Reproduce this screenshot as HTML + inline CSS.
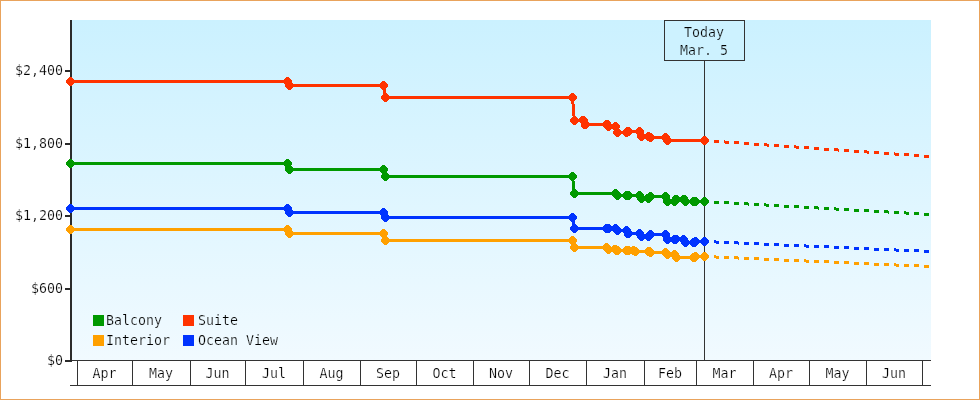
<!DOCTYPE html>
<html lang="en"><head><meta charset="utf-8"><title>Price history</title>
<style>
html,body{margin:0;padding:0;background:#fff;}
body{width:980px;height:400px;overflow:hidden;}
#chart{display:block;width:980px;height:400px;}
#chart{will-change:transform;}
#chart text{font-family:"DejaVu Sans Mono", "Liberation Mono", monospace;font-size:13.30px;fill:#000;}
</style></head><body>
<svg id="chart" width="980" height="400" viewBox="0 0 980 400">
<defs><linearGradient id="bg" x1="0" y1="0" x2="0" y2="1"><stop offset="0" stop-color="#CBF1FF"/><stop offset="1" stop-color="#F1FAFF"/></linearGradient></defs>
<rect x="0" y="0" width="980" height="400" fill="#fff"/>
<rect x="0.5" y="0.5" width="979" height="399" fill="none" stroke="#E9A35C" stroke-width="1"/>
<rect x="72" y="20" width="859" height="340" fill="url(#bg)"/>
<g shape-rendering="crispEdges" stroke="#333" stroke-width="1" fill="none">
<line x1="72" y1="360.5" x2="931" y2="360.5"/>
<line x1="70" y1="385.5" x2="931" y2="385.5"/>
<line x1="77.5" y1="361" x2="77.5" y2="385"/>
<line x1="132.5" y1="361" x2="132.5" y2="385"/>
<line x1="190.5" y1="361" x2="190.5" y2="385"/>
<line x1="245.5" y1="361" x2="245.5" y2="385"/>
<line x1="303.5" y1="361" x2="303.5" y2="385"/>
<line x1="360.5" y1="361" x2="360.5" y2="385"/>
<line x1="416.5" y1="361" x2="416.5" y2="385"/>
<line x1="473.5" y1="361" x2="473.5" y2="385"/>
<line x1="529.5" y1="361" x2="529.5" y2="385"/>
<line x1="586.5" y1="361" x2="586.5" y2="385"/>
<line x1="644.5" y1="361" x2="644.5" y2="385"/>
<line x1="696.5" y1="361" x2="696.5" y2="385"/>
<line x1="753.5" y1="361" x2="753.5" y2="385"/>
<line x1="809.5" y1="361" x2="809.5" y2="385"/>
<line x1="866.5" y1="361" x2="866.5" y2="385"/>
<line x1="922.5" y1="361" x2="922.5" y2="385"/>
</g>
<g shape-rendering="crispEdges" stroke="#333" stroke-width="1">
<line x1="704.5" y1="60" x2="704.5" y2="360"/>
<rect x="664.5" y="20.5" width="80" height="40" fill="#CDF2FF"/>
</g>
<g shape-rendering="crispEdges" fill="#2b2b2b">
<rect x="70" y="20" width="2" height="342"/>
<rect x="65" y="70.0" width="6" height="2"/>
<rect x="65" y="143.0" width="6" height="2"/>
<rect x="65" y="215.0" width="6" height="2"/>
<rect x="65" y="288.0" width="6" height="2"/>
<rect x="65" y="360.0" width="6" height="2"/>
</g>
<g fill="#FFA000" stroke="none" shape-rendering="crispEdges">
<polyline fill="none" stroke="#FFA000" stroke-width="3" stroke-linejoin="round" points="70.50,229.50 287.50,229.50 289.30,233.50 383.75,233.50 385.25,240.50 572.50,240.50 574.30,247.50 606.75,247.50 608.30,249.50 615.20,249.50 616.90,250.50 626.30,250.50 628.30,250.50 633.40,250.50 635.20,251.50 648.80,251.50 650.30,252.50 665.60,252.50 667.30,254.50 674.40,254.50 676.20,257.50 693.90,257.50 695.40,256.50 704.50,256.50"/>
<rect x="714" y="255" width="2" height="3"/>
<rect x="716" y="256" width="3" height="3"/>
<rect x="724" y="256" width="5" height="3"/>
<rect x="734" y="256" width="4" height="3"/>
<rect x="738" y="257" width="1" height="3"/>
<rect x="744" y="257" width="5" height="3"/>
<rect x="754" y="257" width="5" height="3"/>
<rect x="764" y="258" width="5" height="3"/>
<rect x="774" y="258" width="5" height="3"/>
<rect x="784" y="259" width="5" height="3"/>
<rect x="794" y="259" width="5" height="3"/>
<rect x="804" y="259" width="2" height="3"/>
<rect x="806" y="260" width="3" height="3"/>
<rect x="814" y="260" width="5" height="3"/>
<rect x="824" y="260" width="5" height="3"/>
<rect x="834" y="261" width="5" height="3"/>
<rect x="844" y="261" width="5" height="3"/>
<rect x="854" y="262" width="5" height="3"/>
<rect x="864" y="262" width="5" height="3"/>
<rect x="874" y="263" width="5" height="3"/>
<rect x="884" y="263" width="5" height="3"/>
<rect x="894" y="263" width="2" height="3"/>
<rect x="896" y="264" width="3" height="3"/>
<rect x="904" y="264" width="5" height="3"/>
<rect x="914" y="264" width="5" height="3"/>
<rect x="924" y="265" width="5" height="3"/>
<polygon points="69.30,225.00 71.70,225.00 75.00,228.30 75.00,230.70 71.70,234.00 69.30,234.00 66.00,230.70 66.00,228.30"/>
<polygon points="286.30,225.00 288.70,225.00 292.00,228.30 292.00,230.70 288.70,234.00 286.30,234.00 283.00,230.70 283.00,228.30"/>
<polygon points="288.10,229.00 290.50,229.00 293.80,232.30 293.80,234.70 290.50,238.00 288.10,238.00 284.80,234.70 284.80,232.30"/>
<polygon points="382.55,229.00 384.95,229.00 388.25,232.30 388.25,234.70 384.95,238.00 382.55,238.00 379.25,234.70 379.25,232.30"/>
<polygon points="384.05,236.00 386.45,236.00 389.75,239.30 389.75,241.70 386.45,245.00 384.05,245.00 380.75,241.70 380.75,239.30"/>
<polygon points="571.30,236.00 573.70,236.00 577.00,239.30 577.00,241.70 573.70,245.00 571.30,245.00 568.00,241.70 568.00,239.30"/>
<polygon points="573.10,243.00 575.50,243.00 578.80,246.30 578.80,248.70 575.50,252.00 573.10,252.00 569.80,248.70 569.80,246.30"/>
<polygon points="605.55,243.00 607.95,243.00 611.25,246.30 611.25,248.70 607.95,252.00 605.55,252.00 602.25,248.70 602.25,246.30"/>
<polygon points="607.10,245.00 609.50,245.00 612.80,248.30 612.80,250.70 609.50,254.00 607.10,254.00 603.80,250.70 603.80,248.30"/>
<polygon points="614.00,245.00 616.40,245.00 619.70,248.30 619.70,250.70 616.40,254.00 614.00,254.00 610.70,250.70 610.70,248.30"/>
<polygon points="615.70,246.00 618.10,246.00 621.40,249.30 621.40,251.70 618.10,255.00 615.70,255.00 612.40,251.70 612.40,249.30"/>
<polygon points="625.10,246.00 627.50,246.00 630.80,249.30 630.80,251.70 627.50,255.00 625.10,255.00 621.80,251.70 621.80,249.30"/>
<polygon points="627.10,246.00 629.50,246.00 632.80,249.30 632.80,251.70 629.50,255.00 627.10,255.00 623.80,251.70 623.80,249.30"/>
<polygon points="632.20,246.00 634.60,246.00 637.90,249.30 637.90,251.70 634.60,255.00 632.20,255.00 628.90,251.70 628.90,249.30"/>
<polygon points="634.00,247.00 636.40,247.00 639.70,250.30 639.70,252.70 636.40,256.00 634.00,256.00 630.70,252.70 630.70,250.30"/>
<polygon points="647.60,247.00 650.00,247.00 653.30,250.30 653.30,252.70 650.00,256.00 647.60,256.00 644.30,252.70 644.30,250.30"/>
<polygon points="649.10,248.00 651.50,248.00 654.80,251.30 654.80,253.70 651.50,257.00 649.10,257.00 645.80,253.70 645.80,251.30"/>
<polygon points="664.40,248.00 666.80,248.00 670.10,251.30 670.10,253.70 666.80,257.00 664.40,257.00 661.10,253.70 661.10,251.30"/>
<polygon points="666.10,250.00 668.50,250.00 671.80,253.30 671.80,255.70 668.50,259.00 666.10,259.00 662.80,255.70 662.80,253.30"/>
<polygon points="673.20,250.00 675.60,250.00 678.90,253.30 678.90,255.70 675.60,259.00 673.20,259.00 669.90,255.70 669.90,253.30"/>
<polygon points="675.00,253.00 677.40,253.00 680.70,256.30 680.70,258.70 677.40,262.00 675.00,262.00 671.70,258.70 671.70,256.30"/>
<polygon points="692.70,253.00 695.10,253.00 698.40,256.30 698.40,258.70 695.10,262.00 692.70,262.00 689.40,258.70 689.40,256.30"/>
<polygon points="694.20,252.00 696.60,252.00 699.90,255.30 699.90,257.70 696.60,261.00 694.20,261.00 690.90,257.70 690.90,255.30"/>
<polygon points="703.30,252.00 705.70,252.00 709.00,255.30 709.00,257.70 705.70,261.00 703.30,261.00 700.00,257.70 700.00,255.30"/>
</g>
<g fill="#0033FF" stroke="none" shape-rendering="crispEdges">
<polyline fill="none" stroke="#0033FF" stroke-width="3" stroke-linejoin="round" points="70.50,208.50 287.50,208.50 289.30,212.50 383.75,212.50 385.25,217.50 572.50,217.50 574.30,228.50 606.50,228.50 608.00,228.50 615.40,228.50 617.30,230.50 626.30,230.50 628.10,233.50 639.40,233.50 641.20,236.50 648.30,236.50 650.30,234.50 665.60,234.50 667.40,239.50 674.40,239.50 675.80,239.50 683.30,239.50 685.60,242.50 693.90,242.50 695.40,241.50 704.50,241.50"/>
<rect x="714" y="240" width="2" height="3"/>
<rect x="716" y="241" width="3" height="3"/>
<rect x="724" y="241" width="5" height="3"/>
<rect x="734" y="241" width="4" height="3"/>
<rect x="738" y="242" width="1" height="3"/>
<rect x="744" y="242" width="5" height="3"/>
<rect x="754" y="242" width="5" height="3"/>
<rect x="764" y="243" width="5" height="3"/>
<rect x="774" y="243" width="5" height="3"/>
<rect x="784" y="244" width="5" height="3"/>
<rect x="794" y="244" width="5" height="3"/>
<rect x="804" y="244" width="2" height="3"/>
<rect x="806" y="245" width="3" height="3"/>
<rect x="814" y="245" width="5" height="3"/>
<rect x="824" y="245" width="5" height="3"/>
<rect x="834" y="246" width="5" height="3"/>
<rect x="844" y="246" width="5" height="3"/>
<rect x="854" y="247" width="5" height="3"/>
<rect x="864" y="247" width="5" height="3"/>
<rect x="874" y="248" width="5" height="3"/>
<rect x="884" y="248" width="5" height="3"/>
<rect x="894" y="248" width="2" height="3"/>
<rect x="896" y="249" width="3" height="3"/>
<rect x="904" y="249" width="5" height="3"/>
<rect x="914" y="249" width="5" height="3"/>
<rect x="924" y="250" width="5" height="3"/>
<polygon points="69.30,204.00 71.70,204.00 75.00,207.30 75.00,209.70 71.70,213.00 69.30,213.00 66.00,209.70 66.00,207.30"/>
<polygon points="286.30,204.00 288.70,204.00 292.00,207.30 292.00,209.70 288.70,213.00 286.30,213.00 283.00,209.70 283.00,207.30"/>
<polygon points="288.10,208.00 290.50,208.00 293.80,211.30 293.80,213.70 290.50,217.00 288.10,217.00 284.80,213.70 284.80,211.30"/>
<polygon points="382.55,208.00 384.95,208.00 388.25,211.30 388.25,213.70 384.95,217.00 382.55,217.00 379.25,213.70 379.25,211.30"/>
<polygon points="384.05,213.00 386.45,213.00 389.75,216.30 389.75,218.70 386.45,222.00 384.05,222.00 380.75,218.70 380.75,216.30"/>
<polygon points="571.30,213.00 573.70,213.00 577.00,216.30 577.00,218.70 573.70,222.00 571.30,222.00 568.00,218.70 568.00,216.30"/>
<polygon points="573.10,224.00 575.50,224.00 578.80,227.30 578.80,229.70 575.50,233.00 573.10,233.00 569.80,229.70 569.80,227.30"/>
<polygon points="605.30,224.00 607.70,224.00 611.00,227.30 611.00,229.70 607.70,233.00 605.30,233.00 602.00,229.70 602.00,227.30"/>
<polygon points="606.80,224.00 609.20,224.00 612.50,227.30 612.50,229.70 609.20,233.00 606.80,233.00 603.50,229.70 603.50,227.30"/>
<polygon points="614.20,224.00 616.60,224.00 619.90,227.30 619.90,229.70 616.60,233.00 614.20,233.00 610.90,229.70 610.90,227.30"/>
<polygon points="616.10,226.00 618.50,226.00 621.80,229.30 621.80,231.70 618.50,235.00 616.10,235.00 612.80,231.70 612.80,229.30"/>
<polygon points="625.10,226.00 627.50,226.00 630.80,229.30 630.80,231.70 627.50,235.00 625.10,235.00 621.80,231.70 621.80,229.30"/>
<polygon points="626.90,229.00 629.30,229.00 632.60,232.30 632.60,234.70 629.30,238.00 626.90,238.00 623.60,234.70 623.60,232.30"/>
<polygon points="638.20,229.00 640.60,229.00 643.90,232.30 643.90,234.70 640.60,238.00 638.20,238.00 634.90,234.70 634.90,232.30"/>
<polygon points="640.00,232.00 642.40,232.00 645.70,235.30 645.70,237.70 642.40,241.00 640.00,241.00 636.70,237.70 636.70,235.30"/>
<polygon points="647.10,232.00 649.50,232.00 652.80,235.30 652.80,237.70 649.50,241.00 647.10,241.00 643.80,237.70 643.80,235.30"/>
<polygon points="649.10,230.00 651.50,230.00 654.80,233.30 654.80,235.70 651.50,239.00 649.10,239.00 645.80,235.70 645.80,233.30"/>
<polygon points="664.40,230.00 666.80,230.00 670.10,233.30 670.10,235.70 666.80,239.00 664.40,239.00 661.10,235.70 661.10,233.30"/>
<polygon points="666.20,235.00 668.60,235.00 671.90,238.30 671.90,240.70 668.60,244.00 666.20,244.00 662.90,240.70 662.90,238.30"/>
<polygon points="673.20,235.00 675.60,235.00 678.90,238.30 678.90,240.70 675.60,244.00 673.20,244.00 669.90,240.70 669.90,238.30"/>
<polygon points="674.60,235.00 677.00,235.00 680.30,238.30 680.30,240.70 677.00,244.00 674.60,244.00 671.30,240.70 671.30,238.30"/>
<polygon points="682.10,235.00 684.50,235.00 687.80,238.30 687.80,240.70 684.50,244.00 682.10,244.00 678.80,240.70 678.80,238.30"/>
<polygon points="684.40,238.00 686.80,238.00 690.10,241.30 690.10,243.70 686.80,247.00 684.40,247.00 681.10,243.70 681.10,241.30"/>
<polygon points="692.70,238.00 695.10,238.00 698.40,241.30 698.40,243.70 695.10,247.00 692.70,247.00 689.40,243.70 689.40,241.30"/>
<polygon points="694.20,237.00 696.60,237.00 699.90,240.30 699.90,242.70 696.60,246.00 694.20,246.00 690.90,242.70 690.90,240.30"/>
<polygon points="703.30,237.00 705.70,237.00 709.00,240.30 709.00,242.70 705.70,246.00 703.30,246.00 700.00,242.70 700.00,240.30"/>
</g>
<g fill="#009900" stroke="none" shape-rendering="crispEdges">
<polyline fill="none" stroke="#009900" stroke-width="3" stroke-linejoin="round" points="70.50,163.50 287.50,163.50 289.20,169.50 383.75,169.50 385.25,176.50 572.50,176.50 574.30,193.50 615.50,193.50 617.40,195.50 626.30,195.50 628.10,195.50 639.40,195.50 641.20,198.50 648.20,198.50 650.60,196.50 665.50,196.50 667.30,201.50 674.30,201.50 676.00,199.50 683.80,199.50 685.50,201.50 693.90,201.50 695.40,201.50 704.50,201.50"/>
<rect x="714" y="201" width="5" height="3"/>
<rect x="724" y="201" width="5" height="3"/>
<rect x="734" y="202" width="5" height="3"/>
<rect x="744" y="202" width="4" height="3"/>
<rect x="748" y="203" width="1" height="3"/>
<rect x="754" y="203" width="5" height="3"/>
<rect x="764" y="203" width="2" height="3"/>
<rect x="766" y="204" width="3" height="3"/>
<rect x="774" y="204" width="5" height="3"/>
<rect x="784" y="205" width="5" height="3"/>
<rect x="794" y="205" width="5" height="3"/>
<rect x="804" y="206" width="5" height="3"/>
<rect x="814" y="206" width="4" height="3"/>
<rect x="818" y="207" width="1" height="3"/>
<rect x="824" y="207" width="5" height="3"/>
<rect x="834" y="207" width="2" height="3"/>
<rect x="836" y="208" width="3" height="3"/>
<rect x="844" y="208" width="5" height="3"/>
<rect x="854" y="209" width="5" height="3"/>
<rect x="864" y="209" width="5" height="3"/>
<rect x="874" y="210" width="5" height="3"/>
<rect x="884" y="210" width="4" height="3"/>
<rect x="888" y="211" width="1" height="3"/>
<rect x="894" y="211" width="5" height="3"/>
<rect x="904" y="211" width="2" height="3"/>
<rect x="906" y="212" width="3" height="3"/>
<rect x="914" y="212" width="5" height="3"/>
<rect x="924" y="213" width="5" height="3"/>
<polygon points="69.30,159.00 71.70,159.00 75.00,162.30 75.00,164.70 71.70,168.00 69.30,168.00 66.00,164.70 66.00,162.30"/>
<polygon points="286.30,159.00 288.70,159.00 292.00,162.30 292.00,164.70 288.70,168.00 286.30,168.00 283.00,164.70 283.00,162.30"/>
<polygon points="288.00,165.00 290.40,165.00 293.70,168.30 293.70,170.70 290.40,174.00 288.00,174.00 284.70,170.70 284.70,168.30"/>
<polygon points="382.55,165.00 384.95,165.00 388.25,168.30 388.25,170.70 384.95,174.00 382.55,174.00 379.25,170.70 379.25,168.30"/>
<polygon points="384.05,172.00 386.45,172.00 389.75,175.30 389.75,177.70 386.45,181.00 384.05,181.00 380.75,177.70 380.75,175.30"/>
<polygon points="571.30,172.00 573.70,172.00 577.00,175.30 577.00,177.70 573.70,181.00 571.30,181.00 568.00,177.70 568.00,175.30"/>
<polygon points="573.10,189.00 575.50,189.00 578.80,192.30 578.80,194.70 575.50,198.00 573.10,198.00 569.80,194.70 569.80,192.30"/>
<polygon points="614.30,189.00 616.70,189.00 620.00,192.30 620.00,194.70 616.70,198.00 614.30,198.00 611.00,194.70 611.00,192.30"/>
<polygon points="616.20,191.00 618.60,191.00 621.90,194.30 621.90,196.70 618.60,200.00 616.20,200.00 612.90,196.70 612.90,194.30"/>
<polygon points="625.10,191.00 627.50,191.00 630.80,194.30 630.80,196.70 627.50,200.00 625.10,200.00 621.80,196.70 621.80,194.30"/>
<polygon points="626.90,191.00 629.30,191.00 632.60,194.30 632.60,196.70 629.30,200.00 626.90,200.00 623.60,196.70 623.60,194.30"/>
<polygon points="638.20,191.00 640.60,191.00 643.90,194.30 643.90,196.70 640.60,200.00 638.20,200.00 634.90,196.70 634.90,194.30"/>
<polygon points="640.00,194.00 642.40,194.00 645.70,197.30 645.70,199.70 642.40,203.00 640.00,203.00 636.70,199.70 636.70,197.30"/>
<polygon points="647.00,194.00 649.40,194.00 652.70,197.30 652.70,199.70 649.40,203.00 647.00,203.00 643.70,199.70 643.70,197.30"/>
<polygon points="649.40,192.00 651.80,192.00 655.10,195.30 655.10,197.70 651.80,201.00 649.40,201.00 646.10,197.70 646.10,195.30"/>
<polygon points="664.30,192.00 666.70,192.00 670.00,195.30 670.00,197.70 666.70,201.00 664.30,201.00 661.00,197.70 661.00,195.30"/>
<polygon points="666.10,197.00 668.50,197.00 671.80,200.30 671.80,202.70 668.50,206.00 666.10,206.00 662.80,202.70 662.80,200.30"/>
<polygon points="673.10,197.00 675.50,197.00 678.80,200.30 678.80,202.70 675.50,206.00 673.10,206.00 669.80,202.70 669.80,200.30"/>
<polygon points="674.80,195.00 677.20,195.00 680.50,198.30 680.50,200.70 677.20,204.00 674.80,204.00 671.50,200.70 671.50,198.30"/>
<polygon points="682.60,195.00 685.00,195.00 688.30,198.30 688.30,200.70 685.00,204.00 682.60,204.00 679.30,200.70 679.30,198.30"/>
<polygon points="684.30,197.00 686.70,197.00 690.00,200.30 690.00,202.70 686.70,206.00 684.30,206.00 681.00,202.70 681.00,200.30"/>
<polygon points="692.70,197.00 695.10,197.00 698.40,200.30 698.40,202.70 695.10,206.00 692.70,206.00 689.40,202.70 689.40,200.30"/>
<polygon points="694.20,197.00 696.60,197.00 699.90,200.30 699.90,202.70 696.60,206.00 694.20,206.00 690.90,202.70 690.90,200.30"/>
<polygon points="703.30,197.00 705.70,197.00 709.00,200.30 709.00,202.70 705.70,206.00 703.30,206.00 700.00,202.70 700.00,200.30"/>
</g>
<g fill="#FF3300" stroke="none" shape-rendering="crispEdges">
<polyline fill="none" stroke="#FF3300" stroke-width="3" stroke-linejoin="round" points="70.50,81.50 287.50,81.50 289.20,85.50 383.75,85.50 385.25,97.50 572.50,97.50 574.40,120.50 583.20,120.50 585.00,124.50 606.80,124.50 608.30,126.50 615.50,126.50 617.30,132.50 626.30,132.50 628.10,131.50 639.40,131.50 641.20,136.50 648.70,136.50 650.60,137.50 665.50,137.50 667.30,140.50 704.50,140.50"/>
<rect x="714" y="140" width="5" height="3"/>
<rect x="724" y="140" width="1" height="3"/>
<rect x="725" y="141" width="4" height="3"/>
<rect x="734" y="141" width="5" height="3"/>
<rect x="744" y="142" width="5" height="3"/>
<rect x="754" y="143" width="5" height="3"/>
<rect x="764" y="143" width="3" height="3"/>
<rect x="767" y="144" width="2" height="3"/>
<rect x="774" y="144" width="5" height="3"/>
<rect x="784" y="145" width="5" height="3"/>
<rect x="794" y="145" width="2" height="3"/>
<rect x="796" y="146" width="3" height="3"/>
<rect x="804" y="146" width="5" height="3"/>
<rect x="814" y="147" width="5" height="3"/>
<rect x="824" y="148" width="5" height="3"/>
<rect x="834" y="148" width="4" height="3"/>
<rect x="838" y="149" width="1" height="3"/>
<rect x="844" y="149" width="5" height="3"/>
<rect x="854" y="150" width="5" height="3"/>
<rect x="864" y="150" width="3" height="3"/>
<rect x="867" y="151" width="2" height="3"/>
<rect x="874" y="151" width="5" height="3"/>
<rect x="884" y="152" width="5" height="3"/>
<rect x="894" y="152" width="1" height="3"/>
<rect x="895" y="153" width="4" height="3"/>
<rect x="904" y="153" width="5" height="3"/>
<rect x="914" y="154" width="5" height="3"/>
<rect x="924" y="155" width="5" height="3"/>
<polygon points="69.30,77.00 71.70,77.00 75.00,80.30 75.00,82.70 71.70,86.00 69.30,86.00 66.00,82.70 66.00,80.30"/>
<polygon points="286.30,77.00 288.70,77.00 292.00,80.30 292.00,82.70 288.70,86.00 286.30,86.00 283.00,82.70 283.00,80.30"/>
<polygon points="288.00,81.00 290.40,81.00 293.70,84.30 293.70,86.70 290.40,90.00 288.00,90.00 284.70,86.70 284.70,84.30"/>
<polygon points="382.55,81.00 384.95,81.00 388.25,84.30 388.25,86.70 384.95,90.00 382.55,90.00 379.25,86.70 379.25,84.30"/>
<polygon points="384.05,93.00 386.45,93.00 389.75,96.30 389.75,98.70 386.45,102.00 384.05,102.00 380.75,98.70 380.75,96.30"/>
<polygon points="571.30,93.00 573.70,93.00 577.00,96.30 577.00,98.70 573.70,102.00 571.30,102.00 568.00,98.70 568.00,96.30"/>
<polygon points="573.20,116.00 575.60,116.00 578.90,119.30 578.90,121.70 575.60,125.00 573.20,125.00 569.90,121.70 569.90,119.30"/>
<polygon points="582.00,116.00 584.40,116.00 587.70,119.30 587.70,121.70 584.40,125.00 582.00,125.00 578.70,121.70 578.70,119.30"/>
<polygon points="583.80,120.00 586.20,120.00 589.50,123.30 589.50,125.70 586.20,129.00 583.80,129.00 580.50,125.70 580.50,123.30"/>
<polygon points="605.60,120.00 608.00,120.00 611.30,123.30 611.30,125.70 608.00,129.00 605.60,129.00 602.30,125.70 602.30,123.30"/>
<polygon points="607.10,122.00 609.50,122.00 612.80,125.30 612.80,127.70 609.50,131.00 607.10,131.00 603.80,127.70 603.80,125.30"/>
<polygon points="614.30,122.00 616.70,122.00 620.00,125.30 620.00,127.70 616.70,131.00 614.30,131.00 611.00,127.70 611.00,125.30"/>
<polygon points="616.10,128.00 618.50,128.00 621.80,131.30 621.80,133.70 618.50,137.00 616.10,137.00 612.80,133.70 612.80,131.30"/>
<polygon points="625.10,128.00 627.50,128.00 630.80,131.30 630.80,133.70 627.50,137.00 625.10,137.00 621.80,133.70 621.80,131.30"/>
<polygon points="626.90,127.00 629.30,127.00 632.60,130.30 632.60,132.70 629.30,136.00 626.90,136.00 623.60,132.70 623.60,130.30"/>
<polygon points="638.20,127.00 640.60,127.00 643.90,130.30 643.90,132.70 640.60,136.00 638.20,136.00 634.90,132.70 634.90,130.30"/>
<polygon points="640.00,132.00 642.40,132.00 645.70,135.30 645.70,137.70 642.40,141.00 640.00,141.00 636.70,137.70 636.70,135.30"/>
<polygon points="647.50,132.00 649.90,132.00 653.20,135.30 653.20,137.70 649.90,141.00 647.50,141.00 644.20,137.70 644.20,135.30"/>
<polygon points="649.40,133.00 651.80,133.00 655.10,136.30 655.10,138.70 651.80,142.00 649.40,142.00 646.10,138.70 646.10,136.30"/>
<polygon points="664.30,133.00 666.70,133.00 670.00,136.30 670.00,138.70 666.70,142.00 664.30,142.00 661.00,138.70 661.00,136.30"/>
<polygon points="666.10,136.00 668.50,136.00 671.80,139.30 671.80,141.70 668.50,145.00 666.10,145.00 662.80,141.70 662.80,139.30"/>
<polygon points="703.30,136.00 705.70,136.00 709.00,139.30 709.00,141.70 705.70,145.00 703.30,145.00 700.00,141.70 700.00,139.30"/>
</g>
<g shape-rendering="crispEdges">
<rect x="93" y="315" width="11" height="11" fill="#009900"/>
<rect x="183" y="315" width="11" height="11" fill="#FF3300"/>
<rect x="93" y="335" width="11" height="11" fill="#FFA000"/>
<rect x="183" y="335" width="11" height="11" fill="#0033FF"/>
</g>
<text x="106.00" y="325.00" text-anchor="start" stroke="#EDF9FF" stroke-width="0.24">Balcony</text>
<text x="198.00" y="325.00" text-anchor="start" stroke="#EDF9FF" stroke-width="0.24">Suite</text>
<text x="106.00" y="345.00" text-anchor="start" stroke="#EFFAFF" stroke-width="0.24">Interior</text>
<text x="198.00" y="345.00" text-anchor="start" stroke="#EFFAFF" stroke-width="0.24">Ocean View</text>
<text x="63.00" y="75.00" text-anchor="end" stroke="#fff" stroke-width="0.24">$2,400</text>
<text x="63.00" y="148.00" text-anchor="end" stroke="#fff" stroke-width="0.24">$1,800</text>
<text x="63.00" y="220.00" text-anchor="end" stroke="#fff" stroke-width="0.24">$1,200</text>
<text x="63.00" y="293.00" text-anchor="end" stroke="#fff" stroke-width="0.24">$600</text>
<text x="63.00" y="365.00" text-anchor="end" stroke="#fff" stroke-width="0.24">$0</text>
<text x="104.50" y="378.00" text-anchor="middle" stroke="#fff" stroke-width="0.24">Apr</text>
<text x="161.00" y="378.00" text-anchor="middle" stroke="#fff" stroke-width="0.24">May</text>
<text x="217.50" y="378.00" text-anchor="middle" stroke="#fff" stroke-width="0.24">Jun</text>
<text x="274.00" y="378.00" text-anchor="middle" stroke="#fff" stroke-width="0.24">Jul</text>
<text x="331.50" y="378.00" text-anchor="middle" stroke="#fff" stroke-width="0.24">Aug</text>
<text x="388.00" y="378.00" text-anchor="middle" stroke="#fff" stroke-width="0.24">Sep</text>
<text x="444.50" y="378.00" text-anchor="middle" stroke="#fff" stroke-width="0.24">Oct</text>
<text x="501.00" y="378.00" text-anchor="middle" stroke="#fff" stroke-width="0.24">Nov</text>
<text x="557.50" y="378.00" text-anchor="middle" stroke="#fff" stroke-width="0.24">Dec</text>
<text x="615.00" y="378.00" text-anchor="middle" stroke="#fff" stroke-width="0.24">Jan</text>
<text x="670.00" y="378.00" text-anchor="middle" stroke="#fff" stroke-width="0.24">Feb</text>
<text x="724.50" y="378.00" text-anchor="middle" stroke="#fff" stroke-width="0.24">Mar</text>
<text x="781.00" y="378.00" text-anchor="middle" stroke="#fff" stroke-width="0.24">Apr</text>
<text x="837.50" y="378.00" text-anchor="middle" stroke="#fff" stroke-width="0.24">May</text>
<text x="894.00" y="378.00" text-anchor="middle" stroke="#fff" stroke-width="0.24">Jun</text>
<text x="704.00" y="37.00" text-anchor="middle" stroke="#CDF2FF" stroke-width="0.24">Today</text>
<text x="704.00" y="55.00" text-anchor="middle" stroke="#CDF2FF" stroke-width="0.24">Mar. 5</text>
</svg>
</body></html>
